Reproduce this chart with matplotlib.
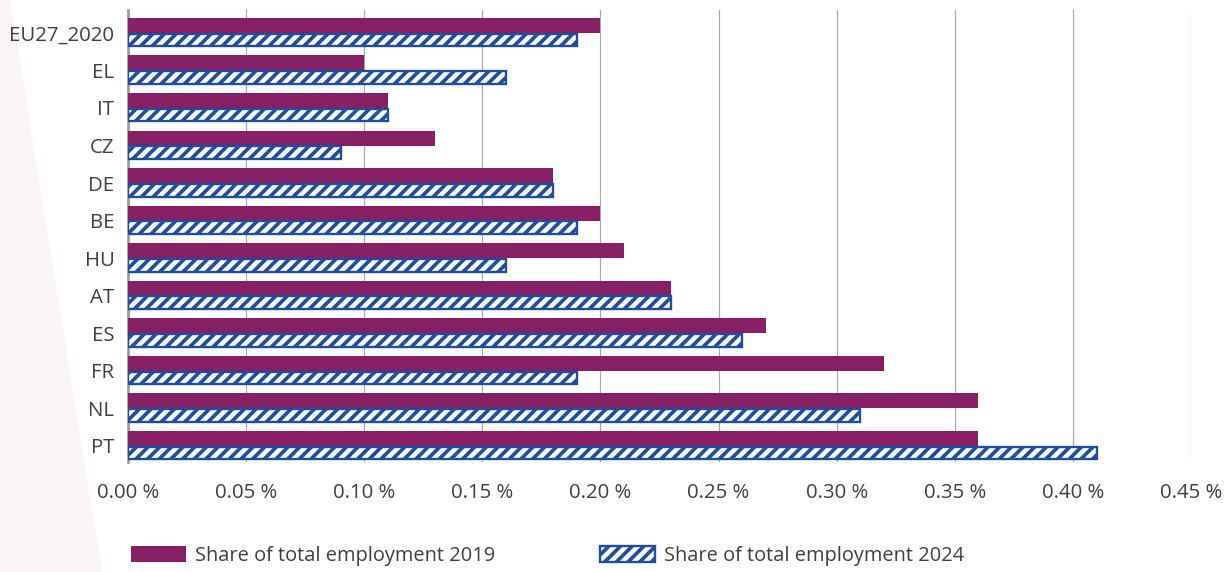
import numpy as np
import matplotlib.pyplot as plt
from matplotlib.patches import Polygon, Patch

countries = ["EU27_2020", "EL", "IT", "CZ", "DE", "BE", "HU", "AT", "ES", "FR", "NL", "PT"]
share_2019 = [0.20, 0.10, 0.11, 0.13, 0.18, 0.20, 0.21, 0.23, 0.27, 0.32, 0.36, 0.36]
share_2024 = [0.19, 0.16, 0.11, 0.09, 0.18, 0.19, 0.16, 0.23, 0.26, 0.19, 0.31, 0.41]
xticks = [0.00, 0.05, 0.10, 0.15, 0.20, 0.25, 0.30, 0.35, 0.40, 0.45]

purple = "#861f63"
blue = "#1f4ea0"
text_col = "#404040"
grid_col = "#a8a8a8"

plt.rcParams["font.family"] = ["Open Sans", "DejaVu Sans"]
plt.rcParams["hatch.linewidth"] = 1.9
plt.rcParams["hatch.color"] = blue

dpi = 140
fig = plt.figure(figsize=(1231 / dpi, 572 / dpi), dpi=dpi)

# faint decorative wedge on the left
bg = fig.add_axes([0, 0, 1, 1], zorder=-5)
bg.set_xlim(0, 1231)
bg.set_ylim(572, 0)
bg.axis("off")
bg.add_patch(Polygon([(0, 0), (10, 0), (102, 572), (0, 572)], closed=True,
                     facecolor="#faf3f8", edgecolor="none"))

ax = fig.add_axes([128 / 1231, 1 - 462 / 572, (1191 - 128) / 1231, (462 - 10) / 572])
ax.patch.set_alpha(0)

y = np.arange(len(countries))
ax.barh(y - 0.2, share_2019, height=0.40, color=purple, zorder=3)
ax.barh(y + 0.19, share_2024, height=0.34, facecolor="white", edgecolor=blue,
        hatch="////", linewidth=1.2, zorder=3)

ax.set_xlim(0, 0.45)
ax.set_ylim(11.43, -0.61)
ax.set_yticks(y)
ax.set_yticklabels(countries)
ax.set_xticks(xticks)
ax.set_xticklabels([f"{v:.2f} %" for v in xticks])
ax.tick_params(axis="both", length=0, labelsize=10.5, labelcolor=text_col)
ax.tick_params(axis="y", pad=7)
ax.tick_params(axis="x", pad=11)

ax.grid(axis="x", color=grid_col, linewidth=0.6, zorder=0)
for s in ["top", "right", "bottom"]:
    ax.spines[s].set_visible(False)
ax.spines["left"].set_color("#9a9a9a")
ax.spines["left"].set_linewidth(1.4)

h1 = Patch(facecolor=purple, edgecolor="none")
h2 = Patch(facecolor="white", edgecolor=blue, hatch="////", linewidth=1.2)
leg_kw = dict(frameon=False, fontsize=10.3, handlelength=2.75, handleheight=0.85,
              handletextpad=0.45, borderpad=0, borderaxespad=0, labelcolor=text_col)
fig.legend([h1], ["Share of total employment 2019"], loc="center left",
           bbox_to_anchor=(131 / 1231, 1 - 556 / 572), **leg_kw)
fig.legend([h2], ["Share of total employment 2024"], loc="center left",
           bbox_to_anchor=(600 / 1231, 1 - 556 / 572), **leg_kw)

fig.savefig("out.png", dpi=dpi)
